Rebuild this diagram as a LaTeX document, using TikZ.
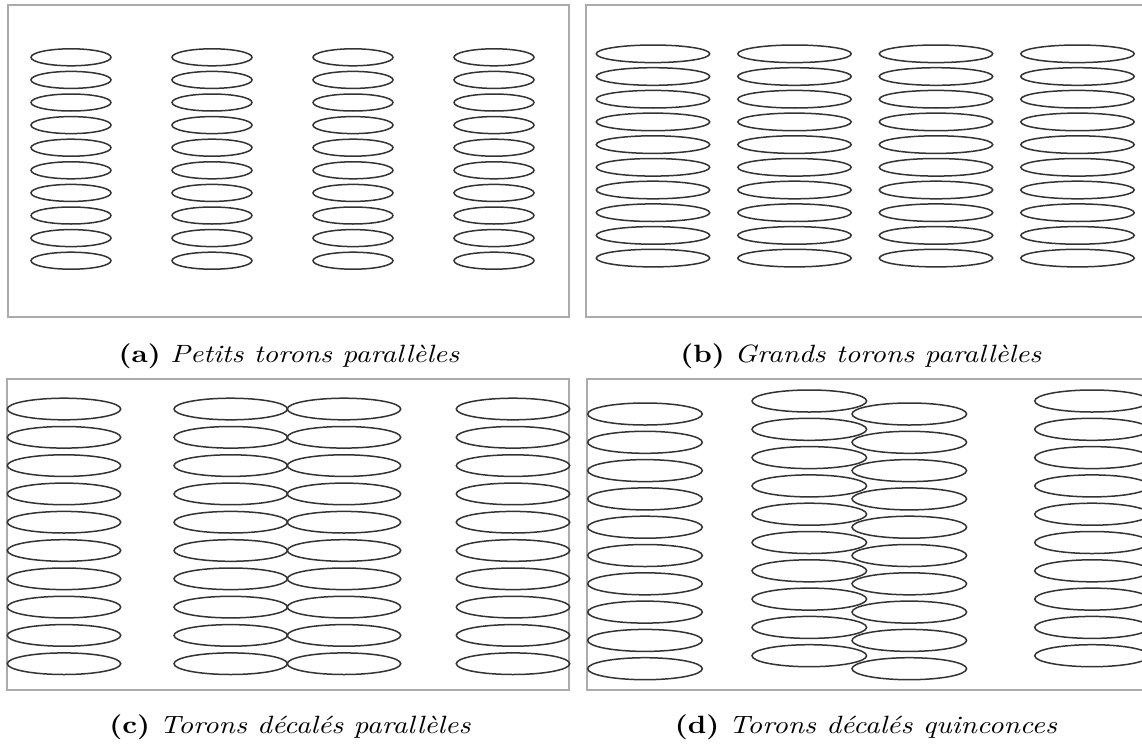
\documentclass[tikz,border=0pt]{standalone}
\usepackage{fontspec}
\usepackage{graphicx}
\newcommand{\captext}[2]{\scalebox{2.9}[2.5]{\fontsize{10}{12}\selectfont\textbf{(#1)} \textit{#2}}}
\begin{document}
\begin{tikzpicture}[x=1pt,y=-1pt,
  frame/.style={draw=black!33, line width=2pt},
  toron/.style={draw=black!80, line width=1.5pt},
  captxt/.style={anchor=base, inner sep=0pt}]
\useasboundingbox (0,0) rectangle (1142,744);
% frames
\draw[frame] (8,5) rectangle (569,317);
\draw[frame] (1142,5) -- (586,5) -- (586,317) -- (1142,317);
\draw[frame] (7,379) rectangle (569,690);
\draw[frame] (1142,379) -- (587,379) -- (587,690) -- (1142,690);
% (a)
\foreach \cx in {71,212,353,494}
  \foreach \k in {0,...,9}
    \draw[toron] (\cx,57.3+22.6*\k) ellipse [x radius=40pt, y radius=8.5pt];
% (b)
\foreach \cx in {653,794.5,936,1077.5}
  \foreach \k in {0,...,9}
    \draw[toron] (\cx,53.8+22.7*\k) ellipse [x radius=56.7pt, y radius=8.8pt];
% (c)
\foreach \cx in {64,230.7,344,513}
  \foreach \k in {0,...,9}
    \draw[toron] (\cx,409+28.3*\k) ellipse [x radius=56.7pt, y radius=10.8pt];
% (d)
\foreach \cx/\cy in {645/414,809.3/401,909.3/414,1092/401}
  \foreach \k in {0,...,9}
    \draw[toron] (\cx,\cy+28.3*\k) ellipse [x radius=57.3pt, y radius=11pt];
% captions
\node[captxt] (capa) at (289,362.5) {\captext{a}{Petits torons parallèles}};
\node[captxt] (capb) at (861,362.5) {\captext{b}{Grands torons parallèles}};
\node[captxt] (capc) at (290,733.5) {\captext{c}{Torons décalés parallèles}};
\node[captxt] (capd) at (866,733.5) {\captext{d}{Torons décalés quinconces}};
\end{tikzpicture}
\end{document}
